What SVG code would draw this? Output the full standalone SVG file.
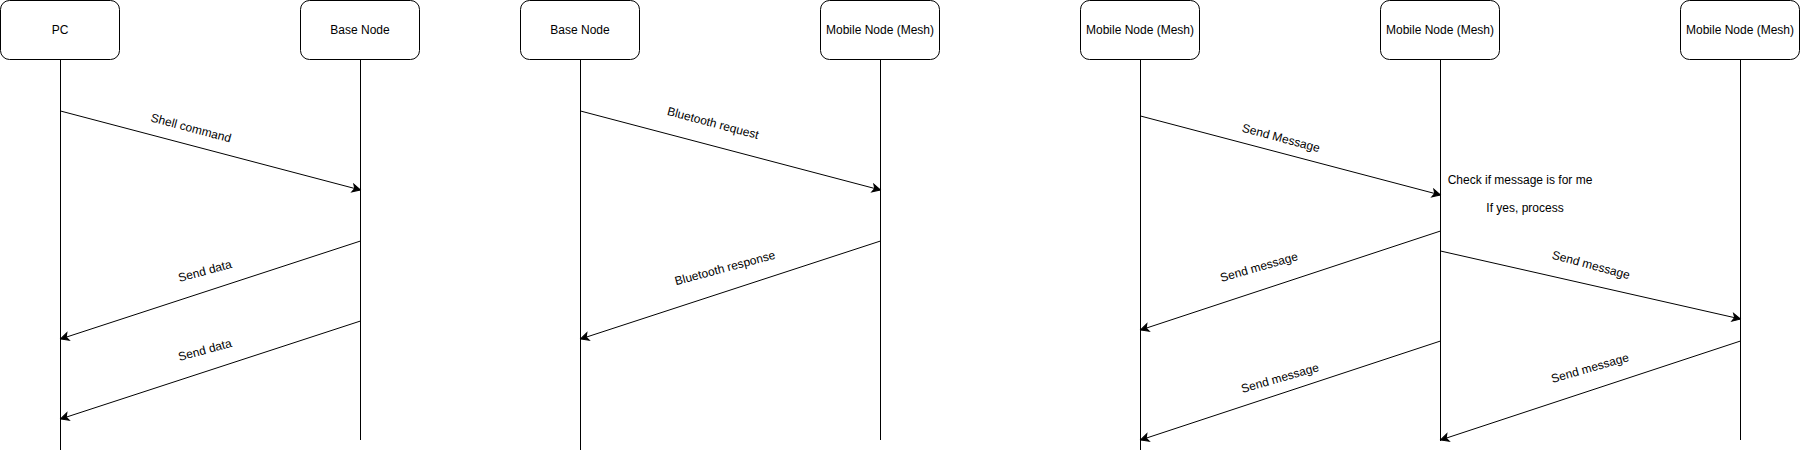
<svg xmlns="http://www.w3.org/2000/svg" width="1801" height="452" viewBox="0 0 1801 452">
<style>
  .box { fill: #ffffff; stroke: #000000; stroke-width: 1; }
  .life { stroke: #000000; stroke-width: 1; fill: none; }
  .msg { stroke: #000000; stroke-width: 1; fill: none; marker-end: url(#arr); }
  text { font-family: "Liberation Sans", Arial, Helvetica, sans-serif; font-size: 12px; fill: #000000; text-anchor: middle; dominant-baseline: central; }
</style>
<defs>
  <marker id="arr" markerUnits="userSpaceOnUse" viewBox="-10 -5 11 10" refX="0" refY="0" markerWidth="11" markerHeight="10" orient="auto">
    <path d="M-8,-4 L0,0 L-8,4 L-6,0 Z" fill="#000000" stroke="#000000" stroke-width="1" stroke-linejoin="miter"/>
  </marker>
</defs>
<rect width="1801" height="452" fill="#ffffff"/>

<g id="node-pc">
  <rect class="box" x="0.5" y="0.5" width="119" height="59" rx="9" ry="9"/>
  <text x="60" y="30">PC</text>
  <line class="life" x1="60.5" y1="60" x2="60.5" y2="450"/>
</g>
<g id="node-base1">
  <rect class="box" x="300.5" y="0.5" width="119" height="59" rx="9" ry="9"/>
  <text x="360" y="30">Base Node</text>
  <line class="life" x1="360.5" y1="60" x2="360.5" y2="440"/>
</g>
<g id="node-base2">
  <rect class="box" x="520.5" y="0.5" width="119" height="59" rx="9" ry="9"/>
  <text x="580" y="30">Base Node</text>
  <line class="life" x1="580.5" y1="60" x2="580.5" y2="450"/>
</g>
<g id="node-mobile1">
  <rect class="box" x="820.5" y="0.5" width="119" height="59" rx="9" ry="9"/>
  <text x="880" y="30">Mobile Node (Mesh)</text>
  <line class="life" x1="880.5" y1="60" x2="880.5" y2="440"/>
</g>
<g id="node-mesh-a">
  <rect class="box" x="1080.5" y="0.5" width="119" height="59" rx="9" ry="9"/>
  <text x="1140" y="30">Mobile Node (Mesh)</text>
  <line class="life" x1="1140.5" y1="60" x2="1140.5" y2="450"/>
</g>
<g id="node-mesh-b">
  <rect class="box" x="1380.5" y="0.5" width="119" height="59" rx="9" ry="9"/>
  <text x="1440" y="30">Mobile Node (Mesh)</text>
  <line class="life" x1="1440.5" y1="60" x2="1440.5" y2="441"/>
  <text x="1520" y="180">Check if message is for me</text>
  <text x="1525" y="208">If yes, process</text>
</g>
<g id="node-mesh-c">
  <rect class="box" x="1680.5" y="0.5" width="119" height="59" rx="9" ry="9"/>
  <text x="1740" y="30">Mobile Node (Mesh)</text>
  <line class="life" x1="1740.5" y1="60" x2="1740.5" y2="440"/>
</g>

<g id="connectors">
  <line class="msg" x1="60.5" y1="111" x2="360.5" y2="190"/>
  <text transform="translate(191,128) rotate(15)">Shell command</text>
  <line class="msg" x1="360.5" y1="241" x2="60.5" y2="339"/>
  <text transform="translate(205,271) rotate(-15)">Send data</text>
  <line class="msg" x1="360.5" y1="321" x2="60.5" y2="419"/>
  <text transform="translate(205,350) rotate(-15)">Send data</text>

  <line class="msg" x1="580.5" y1="111" x2="880.5" y2="190"/>
  <text transform="translate(713,123) rotate(15)">Bluetooth request</text>
  <line class="msg" x1="880.5" y1="241" x2="580.5" y2="339"/>
  <text transform="translate(725,268) rotate(-15)">Bluetooth response</text>

  <line class="msg" x1="1140.5" y1="116" x2="1440.5" y2="195"/>
  <text transform="translate(1281,138) rotate(15)">Send Message</text>
  <line class="msg" x1="1440.5" y1="231" x2="1140.5" y2="330"/>
  <text transform="translate(1259,267) rotate(-16)">Send message</text>
  <line class="msg" x1="1440.5" y1="251" x2="1740.5" y2="319"/>
  <text transform="translate(1591,265) rotate(15)">Send message</text>
  <line class="msg" x1="1440.5" y1="341" x2="1140.5" y2="440"/>
  <text transform="translate(1280,378) rotate(-16)">Send message</text>
  <line class="msg" x1="1740.5" y1="341" x2="1440.5" y2="440"/>
  <text transform="translate(1590,368) rotate(-16)">Send message</text>
</g>
</svg>
